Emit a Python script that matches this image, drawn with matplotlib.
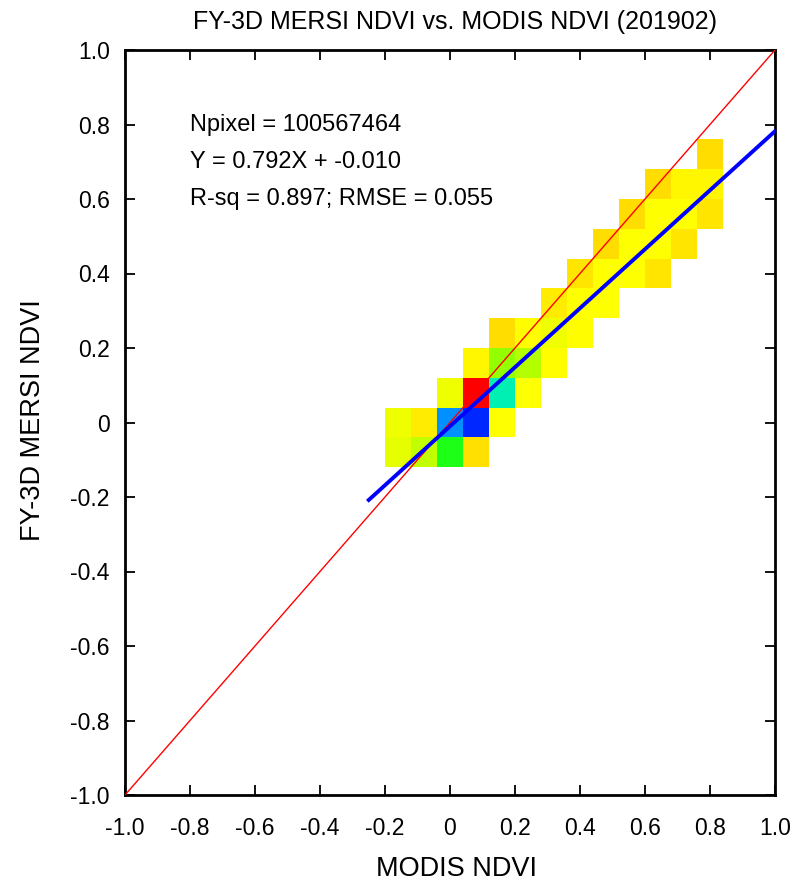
import numpy as np
import matplotlib
matplotlib.use("Agg")
import matplotlib.pyplot as plt
from matplotlib.colors import LinearSegmentedColormap

plt.rcParams['font.family'] = ['Liberation Sans', 'DejaVu Sans']

# ------------------------------------------------------------
# data
# ------------------------------------------------------------
title = "FY-3D MERSI NDVI vs. MODIS NDVI (201902)"
xlabel = "MODIS NDVI"
ylabel = "FY-3D MERSI NDVI"

bin_w = 0.08
x_lo, n_cols = -0.20, 13     # MODIS bins -0.20 .. 0.84
y_lo, n_rows = -0.12, 11     # MERSI bins -0.12 .. 0.76

nan = np.nan
# relative density class per bin (row 0 = lowest y bin)
density = np.array([
    # -0.20 -0.12 -0.04  0.04  0.12  0.20  0.28  0.36  0.44  0.52  0.60  0.68  0.76
    [0.30, 0.35, 0.50, 0.02, nan,  nan,  nan,  nan,  nan,  nan,  nan,  nan,  nan],   # -0.12
    [0.28, 0.10, 0.80, 0.95, 0.20, nan,  nan,  nan,  nan,  nan,  nan,  nan,  nan],   # -0.04
    [nan,  nan,  0.28, 1.00, 0.65, 0.20, nan,  nan,  nan,  nan,  nan,  nan,  nan],   #  0.04
    [nan,  nan,  nan,  0.15, 0.40, 0.37, 0.18, nan,  nan,  nan,  nan,  nan,  nan],   #  0.12
    [nan,  nan,  nan,  nan,  0.00, 0.18, 0.28, 0.18, nan,  nan,  nan,  nan,  nan],   #  0.20
    [nan,  nan,  nan,  nan,  nan,  nan,  0.10, 0.20, 0.20, nan,  nan,  nan,  nan],   #  0.28
    [nan,  nan,  nan,  nan,  nan,  nan,  nan,  0.05, 0.20, 0.20, 0.05, nan,  nan],   #  0.36
    [nan,  nan,  nan,  nan,  nan,  nan,  nan,  nan,  0.00, 0.20, 0.20, 0.05, nan],   #  0.44
    [nan,  nan,  nan,  nan,  nan,  nan,  nan,  nan,  nan,  0.00, 0.20, 0.20, 0.05],  #  0.52
    [nan,  nan,  nan,  nan,  nan,  nan,  nan,  nan,  nan,  nan,  0.00, 0.15, 0.15],  #  0.60
    [nan,  nan,  nan,  nan,  nan,  nan,  nan,  nan,  nan,  nan,  nan,  nan,  0.00],  #  0.68
])

npixel = 100567464
slope, intercept = 0.792, -0.010
rsq, rmse = 0.897, 0.055
fit_x = [-0.25, 1.0]

ticks = [-1.0, -0.8, -0.6, -0.4, -0.2, 0.0, 0.2, 0.4, 0.6, 0.8, 1.0]
tick_labels = ["-1.0", "-0.8", "-0.6", "-0.4", "-0.2", "0", "0.2", "0.4", "0.6", "0.8", "1.0"]

# ------------------------------------------------------------
# colours
# ------------------------------------------------------------
cmap = LinearSegmentedColormap.from_list("dens", [
    (0.00, "#ffdd00"),
    (0.10, "#ffec00"),
    (0.20, "#ffff00"),
    (0.30, "#eeff00"),
    (0.35, "#ccff00"),
    (0.40, "#a8ff00"),
    (0.50, "#22ff00"),
    (0.65, "#00ffa0"),
    (0.80, "#00a8ff"),
    (1.00, "#0022ff"),
])
cmap.set_over("#ff0000")

# ------------------------------------------------------------
# figure
# ------------------------------------------------------------
fig = plt.figure(figsize=(7.93, 8.85), dpi=100)
ax = fig.add_axes([125/793, 1 - 795/885, 650/793, 745/885])

xe = x_lo + bin_w * np.arange(n_cols + 1)
ye = y_lo + bin_w * np.arange(n_rows + 1)
ax.pcolormesh(xe, ye, np.ma.masked_invalid(density), cmap=cmap,
              vmin=0.0, vmax=0.96, shading='flat', antialiased=False,
              edgecolor='none', zorder=1)

ax.plot([-1, 1], [-1, 1], color='red', lw=1.0, zorder=3)
fx = np.array(fit_x)
ax.plot(fx, slope * fx + intercept, color='blue', lw=2.8, zorder=4)

fs_ann = 17
ax.text(-0.8, 0.8, f"Npixel = {npixel}", fontsize=fs_ann, va='center', ha='left')
ax.text(-0.8, 0.7, f"Y = {slope:.3f}X + {intercept:.3f}", fontsize=fs_ann, va='center', ha='left')
ax.text(-0.8, 0.6, f"R-sq = {rsq:.3f}; RMSE = {rmse:.3f}", fontsize=fs_ann, va='center', ha='left')

ax.set_xlim(-1, 1)
ax.set_ylim(-1, 1)
ax.set_xticks(ticks)
ax.set_xticklabels(tick_labels)
ax.set_yticks(ticks)
ax.set_yticklabels(tick_labels)
ax.tick_params(direction='in', length=7, width=1.3, labelsize=16.5,
               top=True, right=True)
ax.tick_params(axis='x', pad=16)
ax.tick_params(axis='y', pad=11)
for sp in ax.spines.values():
    sp.set_linewidth(2.0)

fig.text(455/793, 1 - 22/885, title, ha='center', va='center', fontsize=18)
fig.text(456/793, 1 - 869/885, xlabel, ha='center', va='center', fontsize=19.5)
fig.text(33/793, 1 - 420/885, ylabel, ha='center', va='center', fontsize=19.5, rotation=90)

fig.savefig("out.png", dpi=100)
